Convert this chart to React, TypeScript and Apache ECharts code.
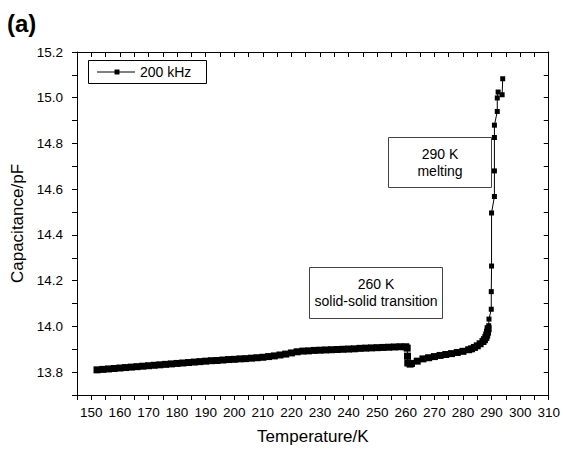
import { useEffect, useRef } from "react";
import * as echarts from "echarts";

// Temperature sweep (K) and measured capacitance (pF) at 200 kHz
const temperatureK = [
  152, 154, 156, 158, 160, 162, 164, 166, 168, 170,
  172, 174, 176, 178, 180, 182, 184, 186, 188, 190,
  192, 194, 196, 198, 200, 202, 204, 206, 208, 210,
  212, 214, 216, 218, 220, 222, 224, 226, 228, 230,
  232, 234, 236, 238, 240, 242, 244, 246, 248, 250,
  252, 254, 256, 258, 260, 260.5, 260.6, 260.7, 261.5, 262,
  264, 266, 268, 270, 272, 274, 276, 278, 280, 282,
  283, 284, 285, 286, 287, 287.5, 288, 288.3, 288.6, 288.8,
  289, 289.1, 289.9, 289.9, 290, 290, 291, 291, 291, 291,
  292, 292, 292.3, 293.7, 293.9,
];
const capacitancePF = [
  13.810, 13.812, 13.814, 13.816, 13.818, 13.820, 13.822, 13.824, 13.826, 13.828,
  13.830, 13.832, 13.834, 13.836, 13.838, 13.840, 13.842, 13.844, 13.846, 13.848,
  13.850, 13.851, 13.853, 13.855, 13.856, 13.858, 13.859, 13.861, 13.863, 13.865,
  13.868, 13.871, 13.875, 13.879, 13.884, 13.889, 13.892, 13.893, 13.895, 13.896,
  13.897, 13.898, 13.899, 13.900, 13.901, 13.902, 13.904, 13.905, 13.906, 13.907,
  13.908, 13.909, 13.910, 13.911, 13.911, 13.905, 13.870, 13.840, 13.835, 13.838,
  13.848, 13.858, 13.863, 13.868, 13.873, 13.877, 13.881, 13.886, 13.891, 13.898,
  13.902, 13.908, 13.915, 13.924, 13.934, 13.942, 13.952, 13.962, 13.975, 13.990,
  14.003, 14.032, 14.075, 14.152, 14.264, 14.496, 14.568, 14.680, 14.826, 14.880,
  14.940, 14.999, 15.025, 15.013, 15.083,
];

const seriesName = "200 kHz";
const meltingLabel = ["290 K", "melting"];
const transitionLabel = ["260 K", "solid-solid transition"];

const X_MIN = 145;
const X_MAX = 310;
const X_STEP = 5;
const Y_MIN = 13.7;
const Y_MAX = 15.2;
const Y_STEP = 0.1;

const FONT = "'Liberation Sans', Arial, Helvetica, sans-serif";

export default function App() {
  const ref = useRef<HTMLDivElement>(null);

  useEffect(() => {
    if (!ref.current) return;
    const chart = echarts.init(ref.current, undefined, { renderer: "svg" });

    const points = temperatureK.map((t, i) => [t, capacitancePF[i]]);

    const xLabel = (v: number) => (Math.round(v) % 10 === 0 ? String(Math.round(v)) : "");
    const yLabel = (v: number) => {
      const k = Math.round(v * 10);
      return k % 2 === 0 ? (k / 10).toFixed(1) : "";
    };

    const axisLine = { show: true, lineStyle: { color: "#000", width: 1 } };
    const tickStyle = { color: "#000", width: 1 };

    chart.setOption({
      animation: false,
      backgroundColor: "#fff",
      textStyle: { fontFamily: FONT },
      grid: { left: 77, right: 13, top: 52, bottom: 52, containLabel: false },
      xAxis: [
        {
          type: "value",
          min: X_MIN,
          max: X_MAX,
          interval: X_STEP,
          position: "bottom",
          name: "Temperature/K",
          nameLocation: "middle",
          nameGap: 33,
          nameTextStyle: { fontSize: 17, color: "#000", fontFamily: FONT },
          axisLine,
          axisTick: { show: true, length: 5, lineStyle: tickStyle },
          axisLabel: {
            formatter: xLabel,
            fontSize: 13.5,
            color: "#000",
            margin: 10,
            fontFamily: FONT,
            showMinLabel: true,
            showMaxLabel: true,
            hideOverlap: false,
          },
          splitLine: { show: false },
        },
        {
          type: "value",
          min: X_MIN,
          max: X_MAX,
          interval: X_STEP,
          position: "top",
          axisLine,
          axisTick: { show: true, inside: true, length: 5, lineStyle: tickStyle },
          axisLabel: { show: false },
          splitLine: { show: false },
        },
      ],
      yAxis: [
        {
          type: "value",
          min: Y_MIN,
          max: Y_MAX,
          interval: Y_STEP,
          position: "left",
          name: "Capacitance/pF",
          nameLocation: "middle",
          nameGap: 49,
          nameTextStyle: { fontSize: 17, color: "#000", fontFamily: FONT },
          axisLine,
          axisTick: { show: true, length: 5, lineStyle: tickStyle },
          axisLabel: {
            formatter: yLabel,
            fontSize: 13.5,
            color: "#000",
            margin: 14,
            fontFamily: FONT,
            showMinLabel: true,
            showMaxLabel: true,
          },
          splitLine: { show: false },
        },
        {
          type: "value",
          min: Y_MIN,
          max: Y_MAX,
          interval: Y_STEP,
          position: "right",
          axisLine,
          axisTick: { show: true, inside: true, length: 5, lineStyle: tickStyle },
          axisLabel: { show: false },
          splitLine: { show: false },
        },
      ],
      series: [
        {
          name: seriesName,
          type: "line",
          xAxisIndex: 0,
          yAxisIndex: 0,
          data: points,
          symbol: "rect",
          showSymbol: true,
          showAllSymbol: true,
          symbolSize: (v: number[]) => (v[1] < 14.0 ? 7 : 5),
          lineStyle: { color: "#000", width: 1 },
          itemStyle: { color: "#000" },
          emphasis: { disabled: true },
        },
      ],
      graphic: [
        {
          type: "text",
          left: 7,
          top: 11,
          style: { text: "(a)", fontSize: 24, fontWeight: "bold", fontFamily: FONT, fill: "#000" },
        },
        // legend box
        {
          type: "rect",
          shape: { x: 88.5, y: 60.5, width: 118, height: 23 },
          style: { fill: "#fff", stroke: "#000", lineWidth: 1 },
        },
        {
          type: "line",
          shape: { x1: 97, y1: 72, x2: 135, y2: 72 },
          style: { stroke: "#000", lineWidth: 1 },
        },
        {
          type: "rect",
          shape: { x: 114.5, y: 69.5, width: 5, height: 5 },
          style: { fill: "#000" },
        },
        {
          type: "text",
          x: 140,
          y: 72,
          style: {
            text: seriesName,
            fontSize: 14,
            fontFamily: FONT,
            fill: "#000",
            verticalAlign: "middle",
          },
        },
        // melting annotation
        {
          type: "rect",
          shape: { x: 388.5, y: 137.5, width: 103, height: 50 },
          style: { fill: "#fff", stroke: "#444", lineWidth: 1 },
        },
        {
          type: "text",
          x: 440,
          y: 162,
          style: {
            text: meltingLabel.join("\n"),
            fontSize: 14,
            lineHeight: 17,
            fontFamily: FONT,
            fill: "#000",
            align: "center",
            verticalAlign: "middle",
          },
        },
        // solid-solid transition annotation
        {
          type: "rect",
          shape: { x: 309.5, y: 267.5, width: 133, height: 51 },
          style: { fill: "#fff", stroke: "#444", lineWidth: 1 },
        },
        {
          type: "text",
          x: 376,
          y: 292,
          style: {
            text: transitionLabel.join("\n"),
            fontSize: 14,
            lineHeight: 17,
            fontFamily: FONT,
            fill: "#000",
            align: "center",
            verticalAlign: "middle",
          },
        },
      ],
    });

    return () => chart.dispose();
  }, []);

  return <div ref={ref} style={{ width: 563, height: 450, position: "absolute", left: 0, top: 0 }} />;
}
